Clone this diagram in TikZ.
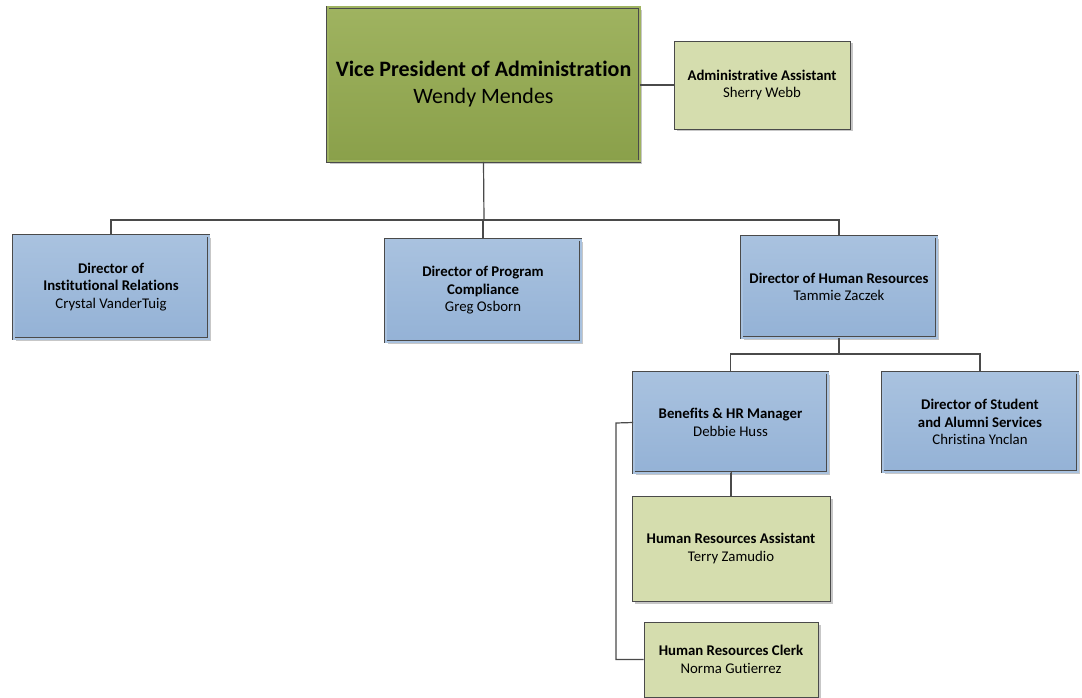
\documentclass[tikz,border=0pt]{standalone}
\usepackage{fontspec}
\setmainfont{Carlito}[Ligatures={NoCommon}]
\usetikzlibrary{shadows}
\definecolor{olivetop}{HTML}{9FB360}
\definecolor{olivebot}{HTML}{8AA04A}
\definecolor{bluetop}{HTML}{A9C2DF}
\definecolor{bluebot}{HTML}{94B2D6}
\definecolor{lightgreen}{HTML}{D5DDAE}
\definecolor{edgegray}{HTML}{4A4A4A}
\tikzset{
  box/.style={rectangle, inner sep=0pt, align=center, font=\fontsize{14.8}{17.5}\selectfont,
    drop shadow={shadow xshift=2.5pt, shadow yshift=-2.5pt, fill=black!22, opacity=1}},
  dblbox/.style={box, draw=edgegray, line width=0.8pt, double distance=2pt},
  bluebox/.style={dblbox, double=bluetop, top color=bluetop, bottom color=bluebot},
  vpbox/.style={dblbox, double=olivetop, top color=olivetop, bottom color=olivebot,
    font=\fontsize{22}{27}\selectfont},
  greenbox/.style={box, draw=edgegray, line width=0.7pt, fill=lightgreen},
  conn/.style={draw=edgegray, line width=1.2pt},
}
\begin{document}
\begin{tikzpicture}[x=1pt,y=-1pt]
\useasboundingbox (0,0) rectangle (1082,698);
% VP
\node[vpbox, minimum width=312, minimum height=154] (vp) at (483.5,84.5)
  {\textbf{Vice President of Administration}\\Wendy Mendes};
\node[greenbox, minimum width=176, minimum height=88] (aa) at (762,85)
  {\textbf{Administrative Assistant}\\Sherry Webb};
% Directors
\node[bluebox, minimum width=195, minimum height=103] (dir) at (111,287)
  {\textbf{Director of}\\\textbf{Institutional Relations}\\Crystal VanderTuig};
\node[bluebox, minimum width=195, minimum height=102] (dpc) at (483,290.5)
  {\textbf{Director of Program}\\\textbf{Compliance}\\Greg Osborn};
\node[bluebox, minimum width=195, minimum height=101] (dhr) at (839,287)
  {\textbf{Director of Human Resources}\\Tammie Zaczek};
% HR level
\node[bluebox, minimum width=194, minimum height=100] (ben) at (730.5,422.5)
  {\textbf{Benefits \& HR Manager}\\Debbie Huss};
\node[bluebox, minimum width=195, minimum height=99] (dsa) at (980,422)
  {\textbf{Director of Student}\\\textbf{and Alumni Services}\\Christina Ynclan};
\node[greenbox, minimum width=198, minimum height=105] (hra) at (731,548.5)
  {\textbf{Human Resources Assistant}\\Terry Zamudio};
\node[greenbox, minimum width=174, minimum height=75] (hrc) at (731,659.5)
  {\textbf{Human Resources Clerk}\\Norma Gutierrez};
% connectors
\coordinate (j1) at (484,220);
\draw[conn] (vp.east |- aa.west) -- (aa.west);
\draw[conn] (vp.south) -- (j1);
\draw[conn] (dir.north) -- (dir.north |- j1) -- (dhr.north |- j1) -- (dhr.north);
\draw[conn] (dpc.north) -- (dpc.north |- j1);
\coordinate (j2) at (839,354);
\draw[conn] (dhr.south) -- (j2);
\draw[conn] (ben.north) -- (ben.north |- j2) -- (dsa.north |- j2) -- (dsa.north);
\draw[conn] (ben.south) -- (ben.south -| hra.north) -- (hra.north);
\coordinate (j3) at (616,423);
\draw[conn] (ben.west) -- (j3) -- (j3 |- hrc.west) -- (hrc.west);
\end{tikzpicture}
\end{document}
